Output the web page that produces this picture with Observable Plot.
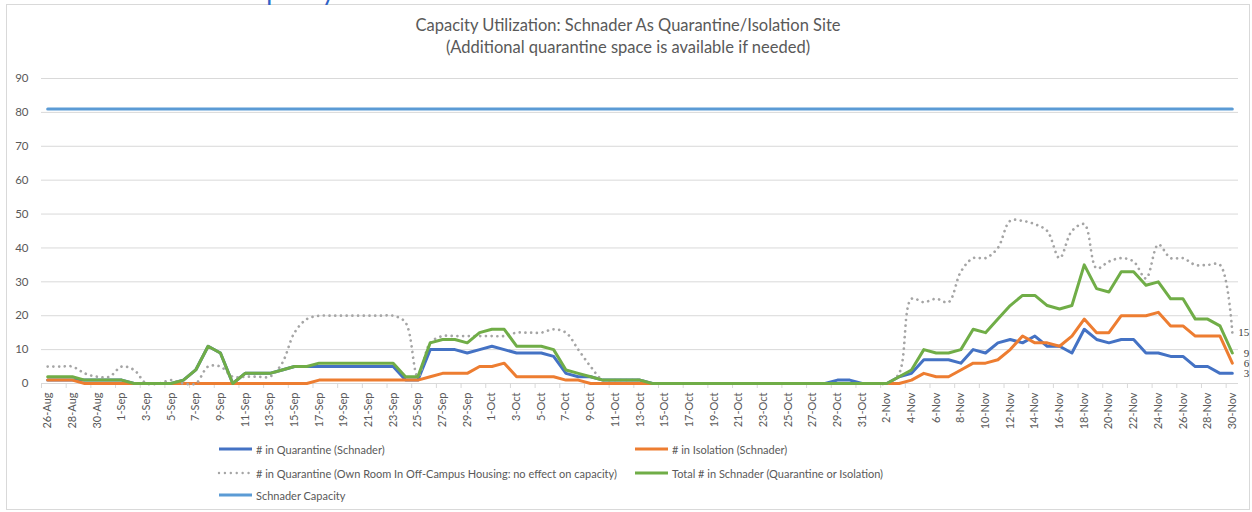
<!DOCTYPE html>
<html>
<head>
<meta charset="utf-8">
<script src="https://cdn.jsdelivr.net/npm/d3@7"></script>
<script src="https://cdn.jsdelivr.net/npm/@observablehq/plot@0.6"></script>
<style>
  html, body { margin: 0; padding: 0; background: #fff; }
  #wrap { position: relative; width: 1252px; height: 512px; overflow: hidden; background: #fff; font-family: Lato, "Open Sans", sans-serif; }
  #frame { position: absolute; left: 6px; top: 4px; width: 1244px; height: 506px; border: 1px solid #d9d9d9; box-sizing: border-box; }
  #clip { position: absolute; left: 236px; top: -25px; font-size: 26px; color: #2f63c6; white-space: nowrap; line-height: 30px; }
  .t { position: absolute; left: 0; width: 1256px; text-align: center; font-size: 16.5px; color: #595959; line-height: 20px; white-space: nowrap; }
  #chart { position: absolute; left: 0; top: 60px; }
  .lg { position: absolute; height: 14px; display: flex; align-items: center; font-size: 11px; color: #595959; white-space: nowrap; }
  .lg svg { margin-right: 2px; }
</style>
</head>
<body>
<div id="wrap">
  <div id="frame"></div>
  <div id="clip">Capacity</div>
  <div class="t" id="t1" style="top:15px"></div>
  <div class="t" id="t2" style="top:37px"></div>
  <div id="chart"></div>
  <div id="legend"></div>
</div>
<script>
// ---- data ----
const startDay = "2020-08-26";
const endDayExclusive = "2020-12-01";
const titleLines = [
  "Capacity Utilization: Schnader As Quarantine/Isolation Site",
  "(Additional quarantine space is available if needed)"
];
const seriesNames = [
  "# in Quarantine (Schnader)",
  "# in Isolation (Schnader)",
  "# in Quarantine (Own Room In Off-Campus Housing: no effect on capacity)",
  "Total # in Schnader (Quarantine or Isolation)",
  "Schnader Capacity"
];
const quarantine = [
  1,1,1,1,1,1,1,0,0,0,
  0,1,4,11,9,0,3,3,3,4,
  5,5,5,5,5,5,5,5,5,1,
  1,10,10,10,9,10,11,10,9,9,
  9,8,3,2,2,1,1,1,1,0,
  0,0,0,0,0,0,0,0,0,0,
  0,0,0,0,1,1,0,0,0,2,
  3,7,7,7,6,10,9,12,13,12,
  14,11,11,9,16,13,12,13,13,9,
  9,8,8,5,5,3,3
];
const isolation = [
  1,1,1,0,0,0,0,0,0,0,
  0,0,0,0,0,0,0,0,0,0,
  0,0,1,1,1,1,1,1,1,1,
  1,2,3,3,3,5,5,6,2,2,
  2,2,1,1,0,0,0,0,0,0,
  0,0,0,0,0,0,0,0,0,0,
  0,0,0,0,0,0,0,0,0,0,
  1,3,2,2,4,6,6,7,10,14,
  12,12,11,14,19,15,15,20,20,20,
  21,17,17,14,14,14,6
];
const offCampus = [
  5,5,5,3,2,2,5,4,0,0,
  1,0,0,5,5,2,2,2,2,6,
  15,19,20,20,20,20,20,20,20,18,
  2,12,14,14,14,14,14,14,15,15,
  15,16,15,10,5,1,1,1,1,0,
  0,0,0,0,0,0,0,0,0,0,
  0,0,0,0,0,0,0,0,0,3,
  25,24,25,24,33,37,37,40,48,48,
  47,45,37,45,47,34,36,37,36,31,
  41,37,37,35,35,35,15
];
const total = [
  2,2,2,1,1,1,1,0,0,0,
  0,1,4,11,9,0,3,3,3,4,
  5,5,6,6,6,6,6,6,6,2,
  2,12,13,13,12,15,16,16,11,11,
  11,10,4,3,2,1,1,1,1,0,
  0,0,0,0,0,0,0,0,0,0,
  0,0,0,0,0,0,0,0,0,2,
  4,10,9,9,10,16,15,19,23,26,
  26,23,22,23,35,28,27,33,33,29,
  30,25,25,19,19,17,9
];
const capacity = 81;
const yTicks = [0,10,20,30,40,50,60,70,80,90];
const tickLabelFormat = "%-d-%b";

// ---- styles ----
const colors = { q: "#4472c4", iso: "#ed7d31", off: "#a5a5a5", tot: "#70ad47", cap: "#5b9bd5" };

// ---- build ----
document.getElementById("t1").textContent = titleLines[0];
document.getElementById("t2").textContent = titleLines[1];

const dates = d3.utcDay.range(new Date(startDay), new Date(endDayExclusive));
const rows = dates.map((date, i) => ({
  date, q: quarantine[i], iso: isolation[i], off: offCampus[i], tot: total[i], cap: capacity
}));
const xStart = d3.utcHour.offset(dates[0], -12);
const xEnd = d3.utcHour.offset(dates[dates.length - 1], 12);
const labelDates = dates.filter((d, i) => i % 2 === 0);
const tickDates = labelDates.map(d => d3.utcHour.offset(d, -12));
const last = rows[rows.length - 1];
const endLabels = [last.off, last.tot, last.iso, last.q].map(v => ({ v }));

const chart = Plot.plot({
  width: 1252,
  height: 380,
  marginTop: 18,
  marginBottom: 57,
  marginLeft: 41,
  marginRight: 14,
  x: { type: "utc", domain: [xStart, xEnd] },
  y: { domain: [0, 90] },
  style: { fontFamily: "Lato, sans-serif", fontSize: "11px", color: "#595959", background: "transparent", overflow: "visible" },
  marks: [
    Plot.ruleY(yTicks, { x1: xStart, x2: xEnd, stroke: "#d9d9d9", strokeWidth: 1 }),
    Plot.axisY(yTicks, { tickSize: 0, tickPadding: 13, label: null, fontSize: 11.5 }),
    Plot.axisX(tickDates, { tickSize: 5, tickFormat: () => "", label: null, stroke: "#d9d9d9" }),
    Plot.axisX(labelDates, { tickSize: 0, tickRotate: -90, tickPadding: 9, tickFormat: d3.utcFormat(tickLabelFormat), label: null, fontSize: 11 }),
    Plot.lineY(rows, { x: "date", y: "q", stroke: colors.q, strokeWidth: 3 }),
    Plot.lineY(rows, { x: "date", y: "iso", stroke: colors.iso, strokeWidth: 3 }),
    Plot.lineY(rows, { x: "date", y: "off", stroke: colors.off, strokeWidth: 2.7, strokeDasharray: "0.01 5.7", strokeLinecap: "round", curve: "catmull-rom" }),
    Plot.lineY(rows, { x: "date", y: "tot", stroke: colors.tot, strokeWidth: 3 }),
    Plot.lineY(rows, { x: "date", y: "cap", stroke: colors.cap, strokeWidth: 3 }),
    Plot.text(endLabels, { x: last.date, y: "v", text: "v", dx: 17, textAnchor: "end", fontFamily: "Liberation Serif, serif", fontSize: 11, fill: "#404040" })
  ]
});
document.getElementById("chart").appendChild(chart);

// ---- legend ----
const legendItems = [
  { name: seriesNames[0], color: colors.q, left: 217, top: 442, dash: null },
  { name: seriesNames[1], color: colors.iso, left: 633, top: 442, dash: null },
  { name: seriesNames[2], color: colors.off, left: 217, top: 466, dash: "0.01 5.9" },
  { name: seriesNames[3], color: colors.tot, left: 633, top: 466, dash: null },
  { name: seriesNames[4], color: colors.cap, left: 217, top: 488, dash: null }
];
const legend = document.getElementById("legend");
for (const it of legendItems) {
  const div = document.createElement("div");
  div.className = "lg";
  div.style.left = it.left + "px";
  div.style.top = it.top + "px";
  const dashAttr = it.dash ? ` stroke-dasharray="${it.dash}" stroke-linecap="round"` : "";
  const sw = it.dash ? 2.4 : 3;
  div.innerHTML = `<svg width="37" height="8"><line x1="2" x2="35" y1="4" y2="4" stroke="${it.color}" stroke-width="${sw}"${dashAttr}/></svg><span></span>`;
  div.querySelector("span").textContent = it.name;
  legend.appendChild(div);
}
</script>
</body>
</html>
